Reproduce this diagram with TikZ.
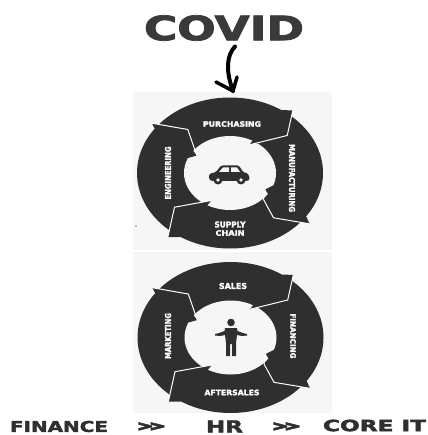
\documentclass[tikz,border=0pt]{standalone}
\usepackage{fontspec}
\setmainfont{DejaVu Sans}[BoldFeatures={FakeBold=2.2}]
\definecolor{ink}{HTML}{2F2F2F}
\definecolor{head}{HTML}{3A3A3A}
\definecolor{panel}{HTML}{F6F6F6}
\newcommand{\fitbf}[3]{\resizebox{#1bp}{#2bp}{\bfseries #3}}
\newcommand{\ringart}[2]{%
 \begin{scope}[shift={(#1,#2)}]
  \fill[ink] (0,0) ellipse [x radius=93,y radius=75.5];
  \fill[panel] (0,0) ellipse [x radius=46,y radius=37];
  \fill[ink] (62.8,-62.5) -- (52,-63) -- (57.2,-37.5) -- cycle;
  \fill[ink] (79.5,50.8) -- (76,43) -- (43.5,44.8) -- cycle;
  \fill[ink] (-62.2,64.2) -- (-50,64) -- (-55.5,34.2) -- cycle;
  \fill[ink] (-78.2,-49.8) -- (-74,-42) -- (-42.2,-43.5) -- cycle;
  \fill[ink] (19.5,-28.2) -- (24.5,-35) -- (36,-31) -- cycle;
  \fill[ink] (35.2,16.5) -- (44,12) -- (40,24) -- cycle;
  \fill[ink] (-18.8,27.5) -- (-24,34) -- (-35,31) -- cycle;
  \fill[ink] (-33.2,-17.5) -- (-42,-15) -- (-40,-26) -- cycle;
  \draw[sep] (62.8,-62.5) -- (57.2,-37.5) -- (19.5,-28.2);
  \draw[sep] (79.5,50.8) -- (43.5,44.8) -- (33.5,26.5) -- (35.2,16.5);
  \draw[sep] (-62.2,64.2) -- (-55.5,34.2) -- (-18.8,27.5);
  \draw[sep] (-78.2,-49.8) -- (-42.2,-43.5) -- (-33.2,-17.5);
 \end{scope}}
\tikzset{
 sep/.style={draw=white,line width=1bp,line join=round},
 lab/.style={text=white,inner sep=0pt},
 big/.style={text=head,inner sep=0pt},
 foot/.style={text=ink,inner sep=0pt}
}
\begin{document}
\begin{tikzpicture}[x=1bp,y=-1bp]
\useasboundingbox (0,0) rectangle (427,435);
\fill[white] (0,0) rectangle (427,435);
\fill[panel] (133,92) rectangle (332,250);
\fill[panel] (133,252) rectangle (332,413);
\ringart{230}{173}
\ringart{230.5}{337.5}
% headline and arrow
\node[big] (covid) at (224,28) {\fitbf{160}{25}{COVID}};
\coordinate (arrowstart) at (235,46.5);
\coordinate (arrowtip) at (233,91);
\draw[black,line width=4bp,line cap=round,line join=round] (arrowstart) .. controls (226,56) and (226,72) .. (arrowtip);
\draw[black,line width=3.5bp,line cap=round,line join=round] (216,82) -- (arrowtip) -- (237,77);
% labels, first ring
\node[lab] (purch) at (232,124) {\fitbf{58}{5.5}{PURCHASING}};
\node[lab] (supply) at (230,224.5) {\fitbf{31}{6}{SUPPLY}};
\node[lab] (chain) at (230,233) {\fitbf{29}{5.5}{CHAIN}};
\node[lab,rotate=-90] (manuf) at (292,178) {\fitbf{68}{6}{MANUFACTURING}};
\node[lab,rotate=90] (engin) at (168,173) {\fitbf{53}{6}{ENGINEERING}};
% labels, second ring
\node[lab] (sales) at (233,286) {\fitbf{28}{6}{SALES}};
\node[lab,rotate=90] (mark) at (168,336) {\fitbf{46}{6}{MARKETING}};
\node[lab,rotate=-90] (fin) at (293,336) {\fitbf{45}{5.5}{FINANCING}};
\node[lab] (after) at (232,392.5) {\fitbf{55}{5.5}{AFTERSALES}};
% car icon
\fill[ink,rounded corners=1.5bp] (209,179) -- (209,174) -- (216,172) -- (221,165.5) -- (239,165.5) -- (243,172) -- (248,173.5) -- (250,179) -- (248,181) -- (211,181) -- cycle;
\fill[panel] (219,172) -- (223,167.5) -- (229,167.5) -- (229,172) -- cycle;
\fill[panel] (231,167.5) -- (237,167.5) -- (240,172) -- (231,172) -- cycle;
\fill[ink] (218,180) circle (4.5);
\fill[ink] (241,180) circle (4.5);
\fill[panel] (218,180) circle (1.8);
\fill[panel] (241,180) circle (1.8);
% person icon
\fill[ink] (231,322.5) circle (3.8);
\fill[ink] (225,328) -- (237,328) -- (237.5,331) -- (243,333) -- (247,334) -- (247,335.5) -- (242,336) -- (237,335) -- (236,343) -- (236,356) -- (232,356) -- (232,344) -- (230,344) -- (230,356) -- (226,356) -- (226,343) -- (225,335) -- (220,336) -- (215,335.5) -- (215,334) -- (219,333) -- (224.5,331) -- cycle;
% speck
\fill[gray] (136,226) circle (0.8);
% footer
\node[foot] (finance) at (59,426.5) {\fitbf{98}{11}{FINANCE}};
\node[foot] (gg1) at (151,427) {\fitbf{34}{9}{>>}};
\node[foot] (hr) at (224.5,426.5) {\fitbf{37}{12}{HR}};
\node[foot] (gg2) at (286,427) {\fitbf{34}{9}{>>}};
\node[foot] (core) at (374.5,425.5) {\fitbf{103}{11.5}{CORE IT}};
\end{tikzpicture}
\end{document}
